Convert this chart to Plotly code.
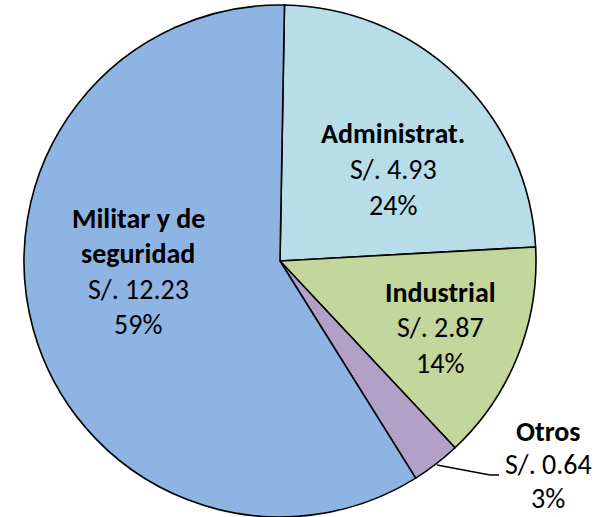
import plotly.graph_objects as go

# ---- data ----
categories = ["Administrat.", "Industrial", "Otros", "Militar y de<br>seguridad"]
values = [4.93, 2.87, 0.64, 12.23]
colors = ["#B7DDE8", "#C3D69B", "#B2A1C7", "#8EB4E3"]

W, H = 602, 517
total = sum(values)

fig = go.Figure(go.Pie(
    labels=categories,
    values=values,
    sort=False,
    direction="clockwise",
    rotation=1,
    textinfo="none",
    hoverinfo="skip",
    marker=dict(colors=colors, line=dict(color="#000000", width=1.6)),
    domain=dict(x=[24 / W, 536 / W], y=[0, 512 / H]),
    showlegend=False,
))

# label anchor (pixel centre of first text line) per category, and line gap
label_pos = [(393, 133, 36), (440, 292, 35.5), (548, 431, 33.5), (138, 218, 35.5)]
font_family = "Carlito, Lato, sans-serif"
fs = 28

annotations = []
for name, v, (px, py, gap) in zip(categories, values, label_pos):
    lines = [(f"<b>{l}</b>") for l in name.split("<br>")]
    lines.append(f"S/. {v:.2f}")
    lines.append(f"{round(v / total * 100):.0f}%")
    for i, t in enumerate(lines):
        y = py + i * gap
        annotations.append(dict(
            x=px / W, y=1 - y / H, xref="paper", yref="paper",
            text=t, showarrow=False, xanchor="center", yanchor="middle",
            font=dict(family=font_family, size=fs, color="#000000"),
        ))

# leader line for "Otros"
pts = [(437, 465), (490, 475), (499, 475)]
path = "M " + " L ".join(f"{x / W},{1 - y / H}" for x, y in pts)
fig.add_shape(type="path", path=path, xref="paper", yref="paper",
              line=dict(color="#000000", width=1.6))

fig.update_layout(
    width=W, height=H,
    margin=dict(l=0, r=0, t=0, b=0),
    paper_bgcolor="white", plot_bgcolor="white",
    annotations=annotations,
)

fig.write_html(
    "out.html",
    config={"displayModeBar": False},
    post_script="document.body.style.margin='0';document.body.style.overflow='hidden';",
)
